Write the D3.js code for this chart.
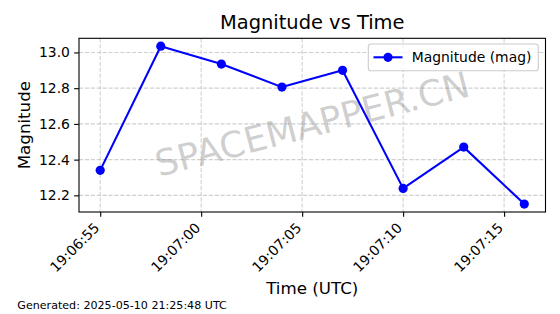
<!DOCTYPE html>
<html><head><meta charset="utf-8">
<script src="https://cdn.jsdelivr.net/npm/d3@7"></script>
<style>
body{margin:0;background:#fff}
svg{display:block}
text{font-family:"DejaVu Sans",sans-serif}
</style>
</head><body>
<svg id="chart" width="560" height="314"></svg>
<script>
// ---- data ----
const obsDate = "2025-05-10";
const times = ["19:06:55","19:06:58","19:07:01","19:07:04","19:07:07","19:07:10","19:07:13","19:07:16"];
const magnitudes = [12.34, 13.035, 12.935, 12.806, 12.90, 12.239, 12.47, 12.151];
const xTickLabels = ["19:06:55","19:07:00","19:07:05","19:07:10","19:07:15"];
const yTicks = [12.2, 12.4, 12.6, 12.8, 13.0];
const titleText = "Magnitude vs Time";
const xLabel = "Time (UTC)";
const yLabel = "Magnitude";
const seriesName = "Magnitude (mag)";
const watermark = "SPACEMAPPER.CN";
const footer = "Generated: 2025-05-10 21:25:48 UTC";

// ---- layout ----
const L = 79, R = 545.5, T = 38.3, B = 212;
const parse = d3.utcParse("%Y-%m-%d %H:%M:%S");
const data = times.map((t, i) => ({t: parse(obsDate + " " + t), v: magnitudes[i]}));

const tExt = d3.extent(data, d => d.t);
const tPad = 0.05 * (tExt[1] - tExt[0]);
const x = d3.scaleUtc()
  .domain([new Date(+tExt[0] - tPad), new Date(+tExt[1] + tPad)])
  .range([L, R]);
const vExt = d3.extent(data, d => d.v);
const vPad = 0.05 * (vExt[1] - vExt[0]);
const y = d3.scaleLinear().domain([vExt[0] - vPad, vExt[1] + vPad]).range([B, T]);

const svg = d3.select("#chart");
svg.append("rect").attr("width", 560).attr("height", 314).attr("fill", "#fff");

const xTickDates = xTickLabels.map(s => parse(obsDate + " " + s));
const fmt = d3.utcFormat("%H:%M:%S");

// grid
const grid = svg.append("g").attr("stroke", "#b0b0b0").attr("stroke-opacity", 0.6)
  .attr("stroke-width", 1.1).attr("stroke-dasharray", "4.1,1.8");
grid.selectAll(".gx").data(xTickDates).join("line")
  .attr("x1", d => x(d)).attr("x2", d => x(d)).attr("y1", T).attr("y2", B);
grid.selectAll(".gy").data(yTicks).join("line")
  .attr("x1", L).attr("x2", R).attr("y1", d => y(d)).attr("y2", d => y(d));

// watermark
svg.append("text")
  .attr("transform", `translate(${(L + R) / 2},${(T + B) / 2 - 1}) rotate(-14.5)`)
  .attr("text-anchor", "middle").attr("dominant-baseline", "central")
  .attr("font-size", 36).attr("fill", "#808080").attr("fill-opacity", 0.38)
  .text(watermark);

// line + markers
const line = d3.line().x(d => x(d.t)).y(d => y(d.v));
svg.append("path").datum(data).attr("d", line)
  .attr("fill", "none").attr("stroke", "#0000ff").attr("stroke-width", 2.08)
  .attr("stroke-linejoin", "round");
svg.selectAll(".pt").data(data).join("circle")
  .attr("cx", d => x(d.t)).attr("cy", d => y(d.v)).attr("r", 4.6).attr("fill", "#0000ff");

// axes
const xAxis = svg.append("g").attr("transform", `translate(0,${B})`)
  .call(d3.axisBottom(x).tickValues(xTickDates).tickFormat(fmt).tickSize(4.86).tickSizeOuter(0));
xAxis.select(".domain").remove();
xAxis.selectAll("line").attr("stroke", "#000").attr("stroke-width", 1.1);
xAxis.selectAll("text")
  .attr("x", 0).attr("y", 0).attr("dy", 0)
  .attr("text-anchor", "end")
  .attr("transform", "translate(-0.5,16.8) rotate(-45)")
  .attr("font-size", 13.9).attr("fill", "#000")
  .style("font-family", "DejaVu Sans");

const yAxis = svg.append("g").attr("transform", `translate(${L},0)`)
  .call(d3.axisLeft(y).tickValues(yTicks).tickFormat(d3.format(".1f")).tickSize(4.86).tickPadding(4.2).tickSizeOuter(0));
yAxis.select(".domain").remove();
yAxis.selectAll("line").attr("stroke", "#000").attr("stroke-width", 1.1);
yAxis.selectAll("text").attr("font-size", 13.9).attr("fill", "#000")
  .style("font-family", "DejaVu Sans");

// spines
svg.append("rect").attr("x", L).attr("y", T).attr("width", R - L).attr("height", B - T)
  .attr("fill", "none").attr("stroke", "#000").attr("stroke-width", 1.1);

// legend
const lg = svg.append("g");
lg.append("rect").attr("x", 368.3).attr("y", 44).attr("width", 170).attr("height", 26.7)
  .attr("rx", 2.8).attr("fill", "#fff").attr("fill-opacity", 0.8)
  .attr("stroke", "#cccccc").attr("stroke-width", 1.1);
lg.append("line").attr("x1", 373.5).attr("x2", 402.5).attr("y1", 57.3).attr("y2", 57.3)
  .attr("stroke", "#0000ff").attr("stroke-width", 2.08);
lg.append("circle").attr("cx", 388).attr("cy", 57.3).attr("r", 4.6).attr("fill", "#0000ff");
lg.append("text").attr("x", 411.7).attr("y", 62.3).attr("font-size", 13.9).attr("fill", "#000")
  .text(seriesName);

// title & labels
svg.append("text").attr("x", (L + R) / 2).attr("y", 29.3).attr("text-anchor", "middle")
  .attr("font-size", 19.44).attr("fill", "#000").text(titleText);
svg.append("text").attr("x", (L + R) / 2).attr("y", 293.5).attr("text-anchor", "middle")
  .attr("font-size", 16.67).attr("fill", "#000").text(xLabel);
svg.append("text").attr("transform", `translate(29.5,${(T + B) / 2}) rotate(-90)`)
  .attr("text-anchor", "middle").attr("font-size", 16.67).attr("fill", "#000").text(yLabel);
svg.append("text").attr("x", 17.3).attr("y", 309).attr("font-size", 11.1).attr("fill", "#000")
  .text(footer);
</script>
</body></html>
